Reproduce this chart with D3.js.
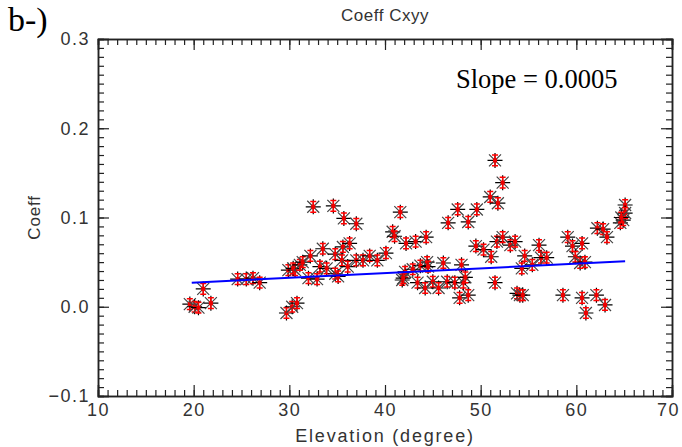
<!DOCTYPE html>
<html><head><meta charset="utf-8">
<script src="https://cdn.jsdelivr.net/npm/d3@7"></script>
<style>body{margin:0;background:#fff}svg{display:block}</style>
</head><body>
<script>
// Data: elevation (degree) and coefficient Cxyy
const elevation = [19.6,20.1,20.5,21.8,21.0,24.6,25.5,26.2,26.9,29.7,30.3,30.8,29.9,30.6,
 32.5,34.6,35.7,37.0,41.6,40.8,41.0,42.2,30.4,31.1,31.4,32.2,33.5,34.8,35.6,36.3,35.5,33.2,33.9,34.8,32.0,32.9,35.1,36.1,37.0,37.7,38.4,39.2,40.1,41.8,42.1,
 51.5,52.3,51.0,51.8,47.6,49.6,48.7,46.6,43.2,44.3,49.5,50.3,51.1,51.7,52.3,53.1,53.6,44.4,43.7,44.5,46.1,48.0,42.9,41.9,43.4,44.2,45.0,45.6,46.5,47.3,48.2,48.4,47.8,48.7,51.5,53.8,
 54.6,54.3,55.4,56.1,56.3,56.9,54.1,54.4,58.6,59.1,59.6,60.6,59.9,60.4,60.9,60.6,61.0,62.1,63.0,62.2,62.8,63.2,64.6,64.9,65.1,65.1,64.7];
const coeff = [0.003,0.000,-0.001,0.004,0.020,0.031,0.031,0.032,0.027,-0.007,0.000,0.004,0.041,0.041,
 0.112,0.113,0.099,0.093,0.106,0.084,0.079,0.071,0.043,0.047,0.050,0.057,0.065,0.059,0.067,0.071,0.052,0.045,0.043,0.037,0.032,0.031,0.034,0.045,0.052,0.052,0.057,0.052,0.060,0.030,0.039,
 0.164,0.139,0.123,0.116,0.109,0.109,0.095,0.094,0.073,0.078,0.068,0.064,0.056,0.073,0.078,0.069,0.073,0.050,0.046,0.045,0.049,0.047,0.042,0.032,0.027,0.021,0.028,0.021,0.028,0.027,0.027,0.033,0.010,0.013,0.027,0.015,
 0.057,0.043,0.047,0.069,0.055,0.055,0.013,0.013,0.013,0.078,0.068,0.071,0.056,0.049,0.050,0.010,-0.007,0.013,0.002,0.088,0.087,0.078,0.094,0.097,0.114,0.105,0.100];
const coeffErr = 0.006;
// Linear fit line endpoints (slope 0.0005)
const fitX = [19.8, 65.1];
const fitY = [0.027, 0.051];
const xTicks = [10,20,30,40,50,60,70];
const yTicks = [-0.1,0.0,0.1,0.2,0.3];
const titleText = "Coeff Cxyy";
const xLabel = "Elevation (degree)";
const yLabel = "Coeff";
const slopeText = "Slope = 0.0005";
const panelText = "b-)";

const W=682,H=447;
const m={l:98,r:10,t:39,b:51};
const svg=d3.select("body").append("svg").attr("width",W).attr("height",H);
const x=d3.scaleLinear().domain([10,70]).range([m.l,W-m.r]);
const y=d3.scaleLinear().domain([-0.1,0.3]).range([H-m.b,m.t]);
const axCol="#222";
const font="'Liberation Sans', Arial, sans-serif";
const serif="'Liberation Serif', 'Times New Roman', serif";

const xMinor=d3.range(10,70.01,1), yMinor=d3.range(-0.1,0.3001,0.01);
function styleAxis(g){g.select(".domain").attr("stroke",axCol).attr("stroke-width",1.5);g.selectAll("line").attr("stroke",axCol).attr("stroke-width",1.2);}
function styleText(sel){sel.attr("font-family",font).attr("font-size",18).attr("letter-spacing",1.5).attr("fill","#333");}
// bottom
svg.append("g").attr("transform",`translate(0,${y(-0.1)})`).call(d3.axisTop(x).tickValues(xMinor).tickSize(6).tickFormat("")).call(styleAxis);
svg.append("g").attr("transform",`translate(0,${y(-0.1)})`).call(d3.axisTop(x).tickValues(xTicks).tickSize(11).tickFormat("")).call(styleAxis);
const xb=svg.append("g").attr("transform",`translate(0,${y(-0.1)})`).call(d3.axisBottom(x).tickValues(xTicks).tickSize(0).tickPadding(7).tickFormat(d3.format("d")));
xb.select(".domain").remove();
xb.selectAll("text").call(styleText).attr("dx",d=>d===70?-4:0);
// top
svg.append("g").attr("transform",`translate(0,${y(0.3)})`).call(d3.axisBottom(x).tickValues(xMinor).tickSize(6).tickFormat("")).call(styleAxis);
svg.append("g").attr("transform",`translate(0,${y(0.3)})`).call(d3.axisBottom(x).tickValues(xTicks).tickSize(11).tickFormat("")).call(styleAxis);
// left
svg.append("g").attr("transform",`translate(${x(10)},0)`).call(d3.axisRight(y).tickValues(yMinor).tickSize(6).tickFormat("")).call(styleAxis);
svg.append("g").attr("transform",`translate(${x(10)},0)`).call(d3.axisRight(y).tickValues(yTicks).tickSize(11).tickFormat("")).call(styleAxis);
const yl=svg.append("g").attr("transform",`translate(${x(10)},0)`).call(d3.axisLeft(y).tickValues(yTicks).tickSize(0).tickPadding(8).tickFormat(d=>d<0?"\u2212"+d3.format(".1f")(-d):d3.format(".1f")(d)));
yl.select(".domain").remove();
yl.selectAll("text").call(styleText);
// right
svg.append("g").attr("transform",`translate(${x(70)},0)`).call(d3.axisLeft(y).tickValues(yMinor).tickSize(6).tickFormat("")).call(styleAxis);
svg.append("g").attr("transform",`translate(${x(70)},0)`).call(d3.axisLeft(y).tickValues(yTicks).tickSize(11).tickFormat("")).call(styleAxis);

// data points
const pts=svg.append("g");
const data=elevation.map((e,i)=>({x:e,y:coeff[i]}));
const r=7.5, rd=6;
const g=pts.selectAll("g").data(data).join("g").attr("transform",d=>`translate(${x(d.x)},${y(d.y)})`);
g.append("path").attr("d",`M${-rd},${-rd}L${rd},${rd}M${-rd},${rd}L${rd},${-rd}`)
 .attr("stroke","#444").attr("stroke-width",1.2).attr("fill","none");
g.append("path").attr("d",`M${-r},0H${r}M0,${-r}V${r}`)
 .attr("stroke","#000").attr("stroke-width",1.2).attr("fill","none");
g.append("path").attr("d",d=>{const a=y(d.y+coeffErr)-y(d.y),b=y(d.y-coeffErr)-y(d.y);return `M0,${a}V${b}M-3,${a}H3M-3,${b}H3`;})
 .attr("stroke","#f00").attr("stroke-width",1.5).attr("fill","none");
g.append("rect").attr("x",-2).attr("y",-2).attr("width",4).attr("height",4).attr("fill","#e00");

// fit line
svg.append("line").attr("x1",x(fitX[0])).attr("y1",y(fitY[0])).attr("x2",x(fitX[1])).attr("y2",y(fitY[1]))
 .attr("stroke","#0000ff").attr("stroke-width",2);

// texts
svg.append("text").attr("x",(x(10)+x(70))/2).attr("y",21).attr("text-anchor","middle").attr("font-family",font).attr("font-size",17).attr("letter-spacing",0.5).attr("fill","#333").text(titleText);
svg.append("text").attr("x",(x(10)+x(70))/2).attr("y",442).attr("text-anchor","middle").attr("font-family",font).attr("font-size",18).attr("letter-spacing",1.8).attr("fill","#333").text(xLabel);
svg.append("text").attr("transform",`translate(40,${y(0.1)}) rotate(-90)`).attr("text-anchor","middle").attr("font-family",font).attr("font-size",17).attr("letter-spacing",0.8).attr("fill","#333").text(yLabel);
svg.append("text").attr("x",456).attr("y",88).attr("font-family",serif).attr("font-size",26.5).attr("fill","#000").text(slopeText);
svg.append("text").attr("x",8).attr("y",31).attr("font-family",serif).attr("font-size",34).attr("fill","#000").text(panelText);
</script>
</body></html>
